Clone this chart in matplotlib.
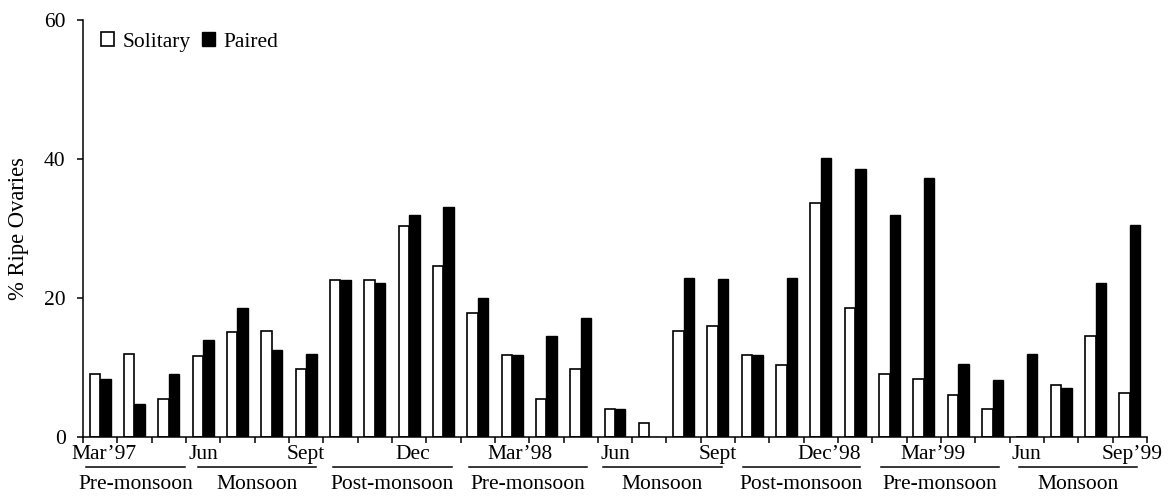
import matplotlib
matplotlib.use('Agg')
import matplotlib.pyplot as plt
import numpy as np
from matplotlib.transforms import blended_transform_factory

# ---- data ----
months = ["Mar\u201997", "Apr", "May", "Jun", "Jul", "Aug", "Sep", "Oct", "Nov", "Dec",
          "Jan\u201998", "Feb", "Mar\u201998", "Apr", "May", "Jun", "Jul", "Aug", "Sep", "Oct",
          "Nov", "Dec\u201998", "Jan\u201999", "Feb", "Mar\u201999", "Apr", "May", "Jun", "Jul",
          "Aug", "Sep\u201999"]
solitary = [9.0, 11.9, 5.5, 11.6, 15.1, 15.3, 9.8, 22.6, 22.6, 30.4, 24.6, 17.9, 11.8, 5.5,
            9.8, 4.0, 2.0, 15.3, 16.0, 11.8, 10.4, 33.7, 18.6, 9.0, 8.4, 6.1, 4.1, 0.0, 7.5,
            14.5, 6.3]
paired = [8.4, 4.7, 9.0, 14.0, 18.6, 12.5, 11.9, 22.6, 22.1, 31.9, 33.1, 20.0, 11.8, 14.5,
          17.1, 4.0, 0.0, 22.9, 22.7, 11.8, 22.9, 40.1, 38.6, 31.9, 37.2, 10.5, 8.2, 11.9, 7.0,
          22.1, 30.5]
shown_month_idx = [0, 3, 6, 9, 12, 15, 18, 21, 24, 27, 30]
shown_month_text = ["Mar\u201997", "Jun", "Sept", "Dec", "Mar\u201998", "Jun", "Sept",
                    "Dec\u201998", "Mar\u201999", "Jun", "Sep\u201999"]
seasons = ["Pre-monsoon", "Monsoon", "Post-monsoon", "Pre-monsoon", "Monsoon",
           "Post-monsoon", "Pre-monsoon", "Monsoon"]
y_ticks = [0, 20, 40, 60]

# ---- layout (not data) ----
label_shift = [0.12, 0.0, 0.0, 0.12, 0.23, 0.0, 0.0, 0.23, 0.26, 0.0, 0.06]
season_spans = [(0.09, 2.97), (3.35, 6.79), (7.28, 10.75), (11.24, 14.68),
                (15.15, 18.61), (19.22, 22.63), (23.24, 26.68), (27.26, 30.70)]

plt.rcParams['font.family'] = ['Liberation Serif', 'DejaVu Serif']
FS = 15.5

fig = plt.figure(figsize=(11.74, 5.01), dpi=100)
ax = fig.add_axes([83/1174, 1 - 437/501, 1064/1174, 417/501])

x = np.arange(len(months))
w = 0.305
b1 = ax.bar(x - w/2, solitary, w, color='white', edgecolor='black', linewidth=1.2, label='Solitary')
b2 = ax.bar(x + w/2, paired, w, color='black', edgecolor='black', linewidth=1.0, label='Paired')

ax.set_xlim(-0.5, len(months) - 0.5)
ax.set_ylim(0, 60)
ax.set_yticks(y_ticks)
ax.set_yticklabels([str(v) for v in y_ticks], fontsize=FS)
ax.set_xticks(np.arange(len(months) + 1) - 0.5)
ax.set_xticklabels([])
ax.tick_params(axis='y', direction='out', length=4.5, width=1.1, pad=8)
ax.tick_params(axis='x', direction='out', length=4, width=1.1)
for s in ['top', 'right']:
    ax.spines[s].set_visible(False)
for s in ['left', 'bottom']:
    ax.spines[s].set_linewidth(1.1)

ax.set_ylabel('% Ripe Ovaries', fontsize=16.3, labelpad=11)

trans = blended_transform_factory(ax.transData, ax.transAxes)
for i, t, sh in zip(shown_month_idx, shown_month_text, label_shift):
    ax.text(x[i] + sh, -0.0528, t, transform=trans, ha='center', va='baseline', fontsize=FS)

for name, (a, b) in zip(seasons, season_spans):
    xa, xb = a - 0.5, b - 0.5
    ax.plot([xa, xb], [-0.072, -0.072], color='black', lw=1.1, transform=trans, clip_on=False)
    ax.text((xa + xb) / 2, -0.1247, name, transform=trans, ha='center', va='baseline', fontsize=FS)

leg = ax.legend(handles=[b1, b2], loc='center left', bbox_to_anchor=(0.017, 0.947),
                ncol=2, frameon=False, fontsize=FS, handlelength=0.6, handleheight=0.6,
                handletextpad=0.42, columnspacing=0.5, borderpad=0, borderaxespad=0)

fig.savefig('out.png', dpi=100)
